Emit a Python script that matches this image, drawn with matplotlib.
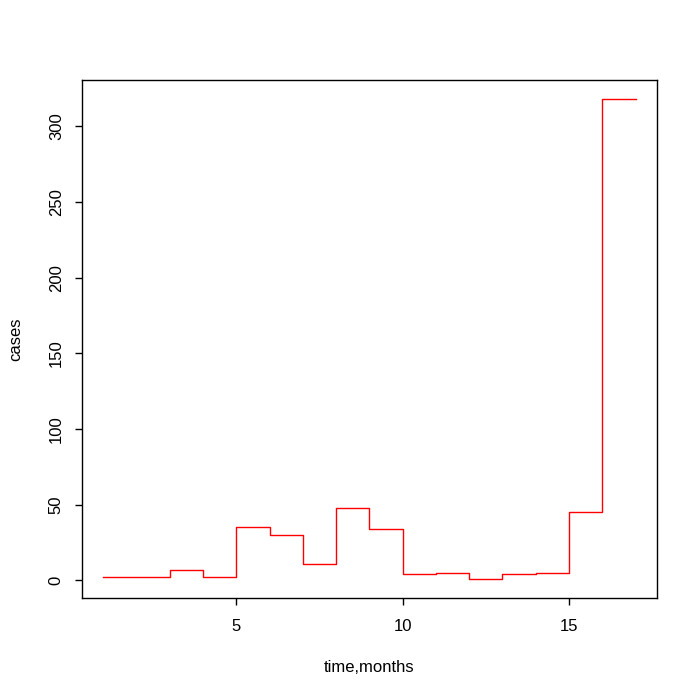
import matplotlib.pyplot as plt

plt.rcParams['font.family'] = ['Liberation Sans', 'DejaVu Sans']

months = list(range(1, 18))
cases = [2, 2, 7, 2, 35, 30, 11, 48, 34, 4, 5, 1, 4, 5, 45, 318, 318]

x_ticks = [5, 10, 15]
y_ticks = [0, 50, 100, 150, 200, 250, 300]

fig = plt.figure(figsize=(7, 7), dpi=100)
ax = fig.add_axes([0.117, 0.1457, 0.8214, 0.74])

ax.step(months, cases, where='post', color='red', linewidth=1)

# R-style 4% padding
xr = max(months) - min(months)
yr = max(cases) - min(cases)
ax.set_xlim(min(months) - 0.04 * xr, max(months) + 0.04 * xr)
ax.set_ylim(min(cases) - 0.04 * yr, max(cases) + 0.04 * yr)

ax.set_xticks(x_ticks)
ax.set_yticks(y_ticks)
ax.set_yticklabels([str(v) for v in y_ticks], rotation=90, va='center')
ax.tick_params(direction='out', length=5, labelsize=12, width=1)
ax.tick_params(axis='x', pad=10)
ax.tick_params(axis='y', pad=8)
for s in ax.spines.values():
    s.set_linewidth(1)

ax.set_xlabel('time,months', fontsize=12, va='center')
ax.set_ylabel('cases', fontsize=12, va='center')
ax.xaxis.set_label_coords(0.5, -0.135)
ax.yaxis.set_label_coords(-0.1148, 0.5)

plt.savefig('out.png', dpi=100)
